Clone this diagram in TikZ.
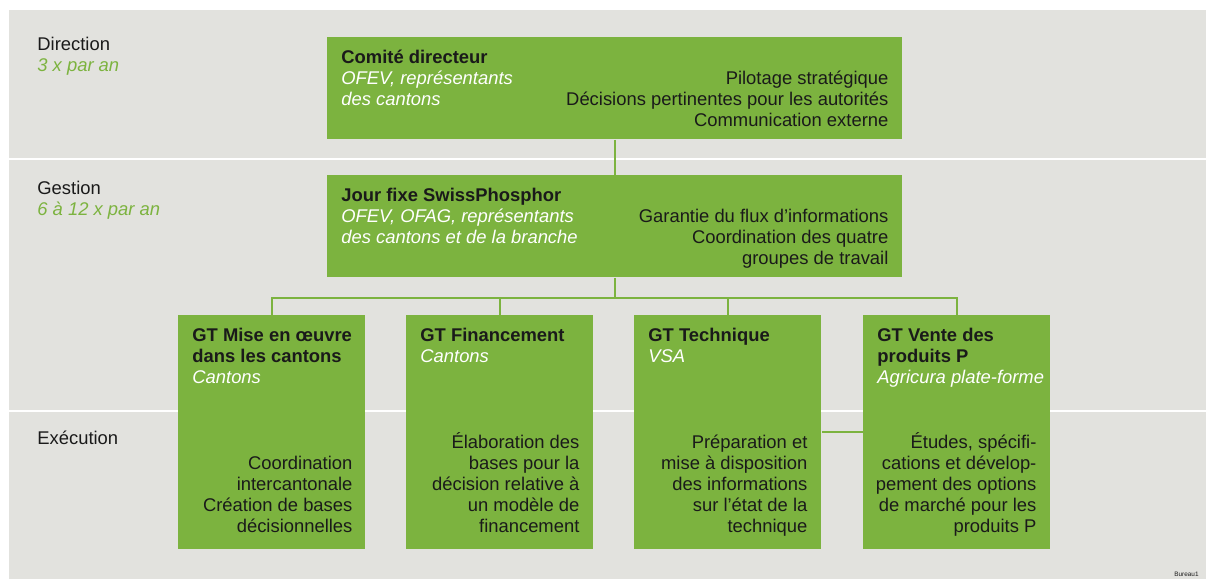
\documentclass[tikz,border=0pt]{standalone}
\usepackage{fontspec}
\setmainfont{Liberation Sans}
\definecolor{leaf}{RGB}{124,179,63}
\definecolor{fog}{RGB}{226,226,222}
\definecolor{ink}{RGB}{26,26,26}

\begin{document}
\begin{tikzpicture}[x=0.5pt,y=-0.5pt,
  box/.style={fill=leaf,draw=none,anchor=north west,inner sep=0},
  wide/.style={box,minimum width=287.5pt,minimum height=51pt},
  group/.style={box,minimum width=93.5pt,minimum height=117pt},
  txt/.style={inner sep=0,text=ink,font=\fontsize{9.2}{10.5}\selectfont},
  lft/.style={txt,align=left,anchor=base west},
  rgt/.style={txt,align=right,anchor=base east},
  link/.style={leaf,line width=1pt}]
\useasboundingbox (0,0) rectangle (1206,579);
\fill[fog] (9,10) rectangle (1206,579);
\draw[white,line width=1.2pt] (9,159) -- (1206,159);
\draw[white,line width=1.2pt] (9,411) -- (1206,411);

\node[lft] (dir) at (37,71) {Direction\\{\color{leaf}\itshape 3 x par an}};
\node[lft] (ges) at (37,215) {Gestion\\{\color{leaf}\itshape 6 à 12 x par an}};
\node[lft] (exe) at (37,444) {Exécution};

\node[wide] (cd) at (327,37) {};
\node[wide] (jf) at (327,175) {};
\node[group] (g1) at (178,315) {};
\node[group] (g2) at (406,315) {};
\node[group] (g3) at (634,315) {};
\node[group] (g4) at (863,315) {};

\coordinate (bus) at ([yshift=-10pt]jf.south);
\draw[link] (cd.south) -- (jf.north);
\draw[link] (jf.south) -- (bus);
\draw[link] (g1.north) |- (bus) -| (g4.north);
\draw[link] (g2.north) -- (g2.north |- bus);
\draw[link] (g3.north) -- (g3.north |- bus);
\draw[link] (g3.east) -- (g4.west);

\node[lft] (cd-name) at ([shift={(14,68)}]cd.north west)
  {\textbf{Comité directeur}\\{\color{white}\itshape OFEV, représentants}\\{\color{white}\itshape des cantons}};
\node[rgt] (cd-task) at ([shift={(-14,89)}]cd.north east)
  {Pilotage stratégique\\Décisions pertinentes pour les autorités\\Communication externe};

\node[lft] (jf-name) at ([shift={(14,68)}]jf.north west)
  {\textbf{Jour fixe SwissPhosphor}\\{\color{white}\itshape OFEV, OFAG, représentants}\\{\color{white}\itshape des cantons et de la branche}};
\node[rgt] (jf-task) at ([shift={(-14,89)}]jf.north east)
  {Garantie du flux d’informations\\Coordination des quatre\\groupes de travail};

\node[lft] (g1-name) at ([shift={(14,68)}]g1.north west)
  {\textbf{GT Mise en œuvre}\\\textbf{dans les cantons}\\{\color{white}\itshape Cantons}};
\node[rgt] (g1-task) at ([shift={(-13,217)}]g1.north east)
  {Coordination\\intercantonale\\Création de bases\\décisionnelles};

\node[lft] (g2-name) at ([shift={(14,47)}]g2.north west)
  {\textbf{GT Financement}\\{\color{white}\itshape Cantons}};
\node[rgt] (g2-task) at ([shift={(-14,217)}]g2.north east)
  {Élaboration des\\bases pour la\\décision relative à\\un modèle de\\financement};

\node[lft] (g3-name) at ([shift={(14,47)}]g3.north west)
  {\textbf{GT Technique}\\{\color{white}\itshape VSA}};
\node[rgt] (g3-task) at ([shift={(-14,217)}]g3.north east)
  {Préparation et\\mise à disposition\\des informations\\sur l’état de la\\technique};

\node[lft] (g4-name) at ([shift={(14,68)}]g4.north west)
  {\textbf{GT Vente des}\\\textbf{produits P}\\{\color{white}\itshape Agricura plate-forme}};
\node[rgt] (g4-task) at ([shift={(-14,217)}]g4.north east)
  {Études, spécifi-\\cations et dévelop-\\pement des options\\de marché pour les\\produits P};

\node[inner sep=0,anchor=base west,text=ink,font=\fontsize{3.2}{4}\selectfont] (credit) at (1174,576) {Bureau1};
\end{tikzpicture}
\end{document}
